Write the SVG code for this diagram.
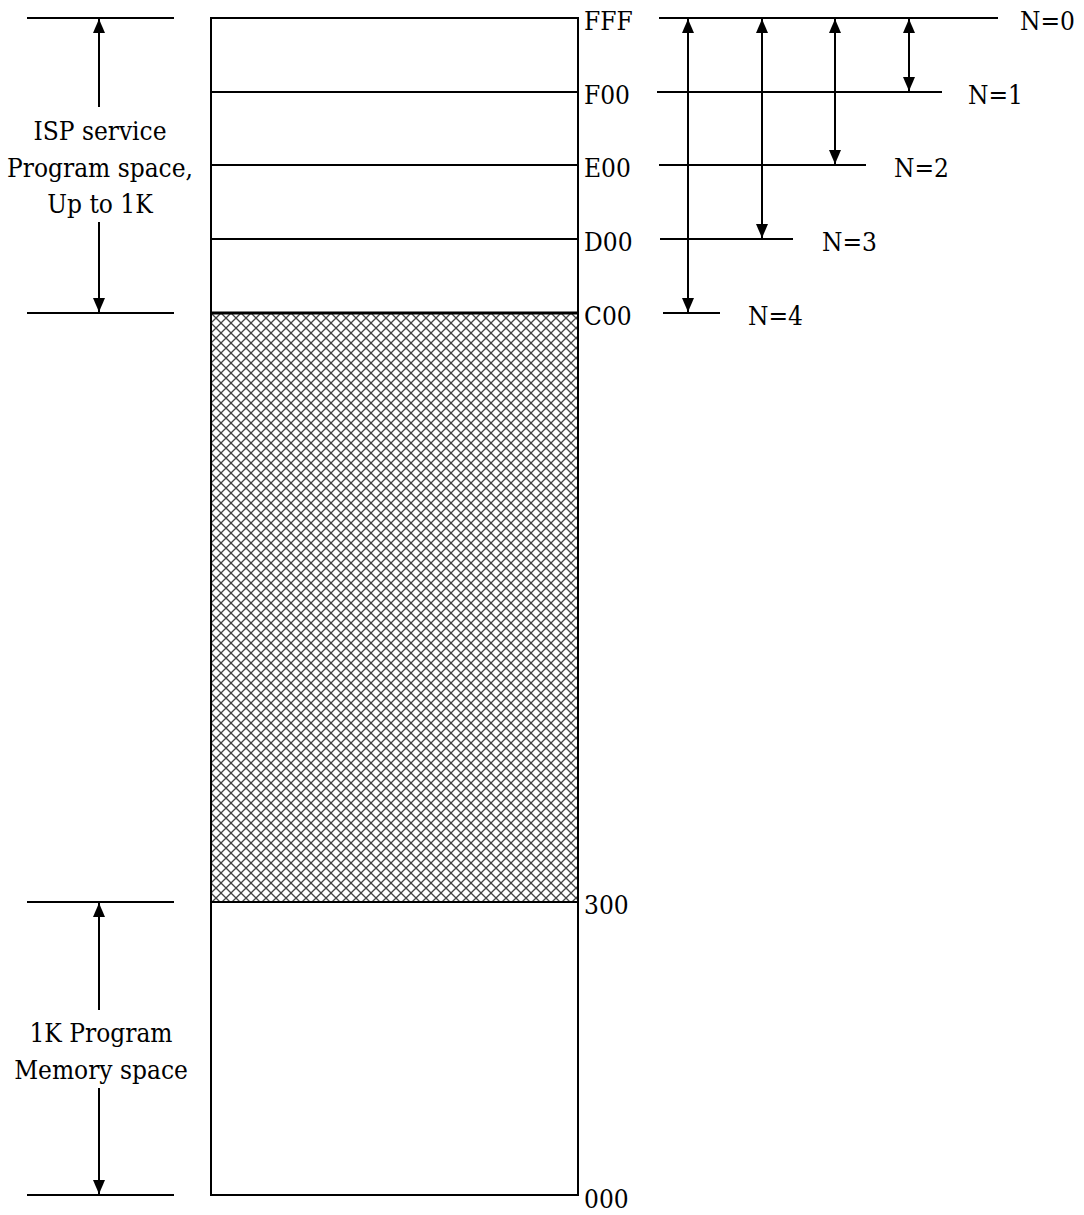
<svg xmlns="http://www.w3.org/2000/svg" width="1084" height="1215" viewBox="0 0 1084 1215">
<style>
.ln{stroke:#000;stroke-width:2;fill:none}
.ar{stroke:#000;stroke-width:2;fill:none}
.t{font-family:'DejaVu Serif Condensed','DejaVu Serif',serif;font-stretch:condensed;font-size:26px;fill:#000}
.c{text-anchor:middle}
</style>
<defs>
<marker id="ah" viewBox="0 0 14 12" refX="14" refY="6" markerWidth="14" markerHeight="12" markerUnits="userSpaceOnUse" orient="auto-start-reverse">
<path d="M0,0 L14,6 L0,12 Z" fill="#000"/>
</marker>
<pattern id="hatch" patternUnits="userSpaceOnUse" x="211" y="313" width="10" height="10">
<path d="M0,0 L10,10 M10,0 L0,10" stroke="#444" stroke-width="1.3" fill="none"/>
</pattern>
</defs>
<rect width="1084" height="1215" fill="#fff"/>

<g id="memory">
<rect x="211" y="313" width="367" height="589" fill="url(#hatch)"/>
<rect x="211" y="18" width="367" height="1177" class="ln"/>
<line x1="211" y1="92" x2="578" y2="92" class="ln"/>
<line x1="211" y1="165" x2="578" y2="165" class="ln"/>
<line x1="211" y1="239" x2="578" y2="239" class="ln"/>
<line x1="211" y1="313" x2="578" y2="313" stroke="#000" stroke-width="3"/>
<line x1="211" y1="902" x2="578" y2="902" class="ln"/>
</g>

<g id="addr-labels">
<text class="t" x="584" y="30">FFF</text>
<text class="t" x="584" y="104">F00</text>
<text class="t" x="584" y="177">E00</text>
<text class="t" x="584" y="251">D00</text>
<text class="t" x="584" y="325">C00</text>
<text class="t" x="584" y="914">300</text>
<text class="t" x="584" y="1208">000</text>
</g>

<g id="isp-bracket">
<line x1="27" y1="18" x2="174" y2="18" class="ln"/>
<line x1="27" y1="313" x2="174" y2="313" class="ln"/>
<text class="t c" x="100" y="140">ISP service</text>
<text class="t c" x="100" y="177">Program space,</text>
<text class="t c" x="100" y="213">Up to 1K</text>
</g>

<g id="mem-bracket">
<line x1="27" y1="902" x2="174" y2="902" class="ln"/>
<line x1="27" y1="1195" x2="174" y2="1195" class="ln"/>
<text class="t c" x="101" y="1042">1K Program</text>
<text class="t c" x="101" y="1079">Memory space</text>
</g>

<g id="n-levels">
<line x1="659" y1="18" x2="998" y2="18" class="ln"/>
<line x1="657" y1="92" x2="942" y2="92" class="ln"/>
<line x1="659" y1="165" x2="866" y2="165" class="ln"/>
<line x1="660" y1="239" x2="793" y2="239" class="ln"/>
<line x1="663" y1="313" x2="720" y2="313" class="ln"/>
<text class="t" x="1020" y="30">N=0</text>
<text class="t" x="968" y="104">N=1</text>
<text class="t" x="894" y="177">N=2</text>
<text class="t" x="822" y="251">N=3</text>
<text class="t" x="748" y="325">N=4</text>
</g>

<g id="connectors">
<line x1="99" y1="19" x2="99" y2="107" class="ar" marker-start="url(#ah)"/>
<line x1="99" y1="222" x2="99" y2="312" class="ar" marker-end="url(#ah)"/>
<line x1="99" y1="903" x2="99" y2="1010" class="ar" marker-start="url(#ah)"/>
<line x1="99" y1="1088" x2="99" y2="1194" class="ar" marker-end="url(#ah)"/>
<line x1="909" y1="19" x2="909" y2="91" class="ar" marker-start="url(#ah)" marker-end="url(#ah)"/>
<line x1="835" y1="19" x2="835" y2="164" class="ar" marker-start="url(#ah)" marker-end="url(#ah)"/>
<line x1="762" y1="19" x2="762" y2="238" class="ar" marker-start="url(#ah)" marker-end="url(#ah)"/>
<line x1="688" y1="19" x2="688" y2="312" class="ar" marker-start="url(#ah)" marker-end="url(#ah)"/>
</g>
</svg>
